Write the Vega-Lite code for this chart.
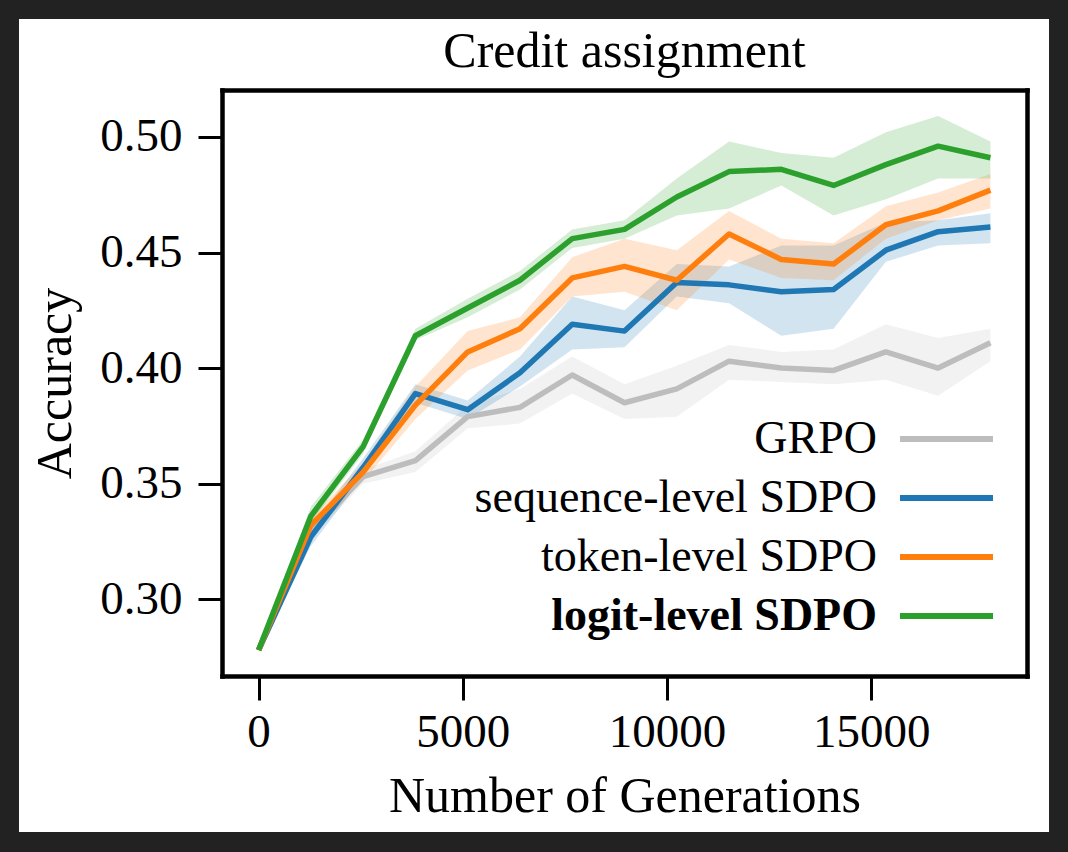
{
  "$schema": "https://vega.github.io/schema/vega-lite/v6.json",
  "width": 805,
  "height": 586,
  "autosize": {"type": "none"},
  "padding": {"left": 222, "top": 90, "right": 41, "bottom": 176},
  "background": "#222222",
  "title": {"text": "Credit assignment", "fontSize": 50, "font": "Liberation Serif", "fontWeight": "normal", "color": "#000000", "offset": -58, "anchor": "middle", "frame": "group", "zindex": 1},
  "config": {
    "font": "Liberation Serif",
    "view": {"stroke": null},
    "axis": {"grid": false, "labelFont": "Liberation Serif", "titleFont": "Liberation Serif", "labelColor": "#000000", "titleColor": "#000000", "tickColor": "#000000", "domainColor": "#000000", "labelFontSize": 47, "titleFontSize": 50, "titleFontWeight": "normal", "tickWidth": 3, "tickSize": 24, "domainWidth": 4.5, "domainCap": "square"}
  },
  "datasets": {
    "runs": [
      {"method": "GRPO", "generations": 0, "accuracy": 0.278, "lower": 0.278, "upper": 0.278},
      {"method": "GRPO", "generations": 1280, "accuracy": 0.329, "lower": 0.326, "upper": 0.332},
      {"method": "GRPO", "generations": 2560, "accuracy": 0.353, "lower": 0.350, "upper": 0.356},
      {"method": "GRPO", "generations": 3840, "accuracy": 0.360, "lower": 0.355, "upper": 0.364},
      {"method": "GRPO", "generations": 5120, "accuracy": 0.379, "lower": 0.374, "upper": 0.384},
      {"method": "GRPO", "generations": 6400, "accuracy": 0.383, "lower": 0.376, "upper": 0.391},
      {"method": "GRPO", "generations": 7680, "accuracy": 0.397, "lower": 0.389, "upper": 0.405},
      {"method": "GRPO", "generations": 8960, "accuracy": 0.385, "lower": 0.378, "upper": 0.393},
      {"method": "GRPO", "generations": 10240, "accuracy": 0.391, "lower": 0.379, "upper": 0.401},
      {"method": "GRPO", "generations": 11520, "accuracy": 0.403, "lower": 0.395, "upper": 0.410},
      {"method": "GRPO", "generations": 12800, "accuracy": 0.400, "lower": 0.394, "upper": 0.407},
      {"method": "GRPO", "generations": 14080, "accuracy": 0.399, "lower": 0.393, "upper": 0.408},
      {"method": "GRPO", "generations": 15360, "accuracy": 0.407, "lower": 0.395, "upper": 0.419},
      {"method": "GRPO", "generations": 16640, "accuracy": 0.400, "lower": 0.388, "upper": 0.413},
      {"method": "GRPO", "generations": 17920, "accuracy": 0.411, "lower": 0.403, "upper": 0.417},
      {"method": "sequence-level SDPO", "generations": 0, "accuracy": 0.278, "lower": 0.278, "upper": 0.278},
      {"method": "sequence-level SDPO", "generations": 1280, "accuracy": 0.327, "lower": 0.323, "upper": 0.331},
      {"method": "sequence-level SDPO", "generations": 2560, "accuracy": 0.357, "lower": 0.353, "upper": 0.361},
      {"method": "sequence-level SDPO", "generations": 3840, "accuracy": 0.389, "lower": 0.385, "upper": 0.393},
      {"method": "sequence-level SDPO", "generations": 5120, "accuracy": 0.382, "lower": 0.378, "upper": 0.386},
      {"method": "sequence-level SDPO", "generations": 6400, "accuracy": 0.398, "lower": 0.392, "upper": 0.405},
      {"method": "sequence-level SDPO", "generations": 7680, "accuracy": 0.419, "lower": 0.408, "upper": 0.431},
      {"method": "sequence-level SDPO", "generations": 8960, "accuracy": 0.416, "lower": 0.409, "upper": 0.425},
      {"method": "sequence-level SDPO", "generations": 10240, "accuracy": 0.437, "lower": 0.431, "upper": 0.445},
      {"method": "sequence-level SDPO", "generations": 11520, "accuracy": 0.436, "lower": 0.428, "upper": 0.444},
      {"method": "sequence-level SDPO", "generations": 12800, "accuracy": 0.433, "lower": 0.414, "upper": 0.453},
      {"method": "sequence-level SDPO", "generations": 14080, "accuracy": 0.434, "lower": 0.417, "upper": 0.453},
      {"method": "sequence-level SDPO", "generations": 15360, "accuracy": 0.451, "lower": 0.446, "upper": 0.463},
      {"method": "sequence-level SDPO", "generations": 16640, "accuracy": 0.459, "lower": 0.453, "upper": 0.464},
      {"method": "sequence-level SDPO", "generations": 17920, "accuracy": 0.461, "lower": 0.454, "upper": 0.467},
      {"method": "token-level SDPO", "generations": 0, "accuracy": 0.278, "lower": 0.278, "upper": 0.278},
      {"method": "token-level SDPO", "generations": 1280, "accuracy": 0.332, "lower": 0.329, "upper": 0.335},
      {"method": "token-level SDPO", "generations": 2560, "accuracy": 0.355, "lower": 0.351, "upper": 0.359},
      {"method": "token-level SDPO", "generations": 3840, "accuracy": 0.384, "lower": 0.378, "upper": 0.392},
      {"method": "token-level SDPO", "generations": 5120, "accuracy": 0.407, "lower": 0.399, "upper": 0.416},
      {"method": "token-level SDPO", "generations": 6400, "accuracy": 0.417, "lower": 0.408, "upper": 0.422},
      {"method": "token-level SDPO", "generations": 7680, "accuracy": 0.439, "lower": 0.431, "upper": 0.448},
      {"method": "token-level SDPO", "generations": 8960, "accuracy": 0.444, "lower": 0.433, "upper": 0.456},
      {"method": "token-level SDPO", "generations": 10240, "accuracy": 0.438, "lower": 0.425, "upper": 0.451},
      {"method": "token-level SDPO", "generations": 11520, "accuracy": 0.458, "lower": 0.447, "upper": 0.468},
      {"method": "token-level SDPO", "generations": 12800, "accuracy": 0.447, "lower": 0.439, "upper": 0.456},
      {"method": "token-level SDPO", "generations": 14080, "accuracy": 0.445, "lower": 0.438, "upper": 0.454},
      {"method": "token-level SDPO", "generations": 15360, "accuracy": 0.462, "lower": 0.456, "upper": 0.470},
      {"method": "token-level SDPO", "generations": 16640, "accuracy": 0.468, "lower": 0.464, "upper": 0.476},
      {"method": "token-level SDPO", "generations": 17920, "accuracy": 0.477, "lower": 0.469, "upper": 0.484},
      {"method": "logit-level SDPO", "generations": 0, "accuracy": 0.278, "lower": 0.278, "upper": 0.278},
      {"method": "logit-level SDPO", "generations": 1280, "accuracy": 0.336, "lower": 0.333, "upper": 0.340},
      {"method": "logit-level SDPO", "generations": 2560, "accuracy": 0.366, "lower": 0.363, "upper": 0.369},
      {"method": "logit-level SDPO", "generations": 3840, "accuracy": 0.414, "lower": 0.412, "upper": 0.417},
      {"method": "logit-level SDPO", "generations": 5120, "accuracy": 0.426, "lower": 0.422, "upper": 0.430},
      {"method": "logit-level SDPO", "generations": 6400, "accuracy": 0.438, "lower": 0.434, "upper": 0.442},
      {"method": "logit-level SDPO", "generations": 7680, "accuracy": 0.456, "lower": 0.452, "upper": 0.460},
      {"method": "logit-level SDPO", "generations": 8960, "accuracy": 0.460, "lower": 0.456, "upper": 0.464},
      {"method": "logit-level SDPO", "generations": 10240, "accuracy": 0.474, "lower": 0.466, "upper": 0.482},
      {"method": "logit-level SDPO", "generations": 11520, "accuracy": 0.485, "lower": 0.469, "upper": 0.498},
      {"method": "logit-level SDPO", "generations": 12800, "accuracy": 0.486, "lower": 0.479, "upper": 0.493},
      {"method": "logit-level SDPO", "generations": 14080, "accuracy": 0.479, "lower": 0.466, "upper": 0.491},
      {"method": "logit-level SDPO", "generations": 15360, "accuracy": 0.488, "lower": 0.473, "upper": 0.502},
      {"method": "logit-level SDPO", "generations": 16640, "accuracy": 0.496, "lower": 0.482, "upper": 0.509},
      {"method": "logit-level SDPO", "generations": 17920, "accuracy": 0.491, "lower": 0.482, "upper": 0.498}
    ]
  },
  "layer": [
    {
      "data": {"values": [{}]},
      "mark": {"type": "rect", "fill": "#ffffff"},
      "encoding": {
        "x": {"datum": -5867, "type": "quantitative", "scale": {"domain": [-896, 18816], "nice": false, "zero": false}, "axis": null},
        "x2": {"datum": 19355},
        "y": {"datum": 0.551, "type": "quantitative", "scale": {"domain": [0.2668, 0.5203], "nice": false, "zero": false}, "axis": null},
        "y2": {"datum": 0.1993}
      }
    },
    {
      "data": {"name": "runs"},
      "mark": {"type": "area", "fillOpacity": 0.2, "strokeWidth": 0},
      "encoding": {
        "x": {"field": "generations", "type": "quantitative", "scale": {"domain": [-896, 18816], "nice": false, "zero": false},
              "axis": {"orient": "bottom", "zindex": 1, "values": [0, 5000, 10000, 15000], "format": "d", "title": "Number of Generations", "labelPadding": 9, "titlePadding": 16, "domain": true}},
        "y": {"field": "lower", "type": "quantitative", "scale": {"domain": [0.2668, 0.5203], "nice": false, "zero": false},
              "axis": {"orient": "left", "zindex": 1, "values": [0.3, 0.35, 0.4, 0.45, 0.5], "format": ".2f", "title": "Accuracy", "labelPadding": 16, "titlePadding": 19, "domain": true}},
        "y2": {"field": "upper"},
        "fill": {"field": "method", "type": "nominal",
                 "scale": {"domain": ["GRPO", "sequence-level SDPO", "token-level SDPO", "logit-level SDPO"], "range": ["#bdbdbd", "#1f77b4", "#ff7f0e", "#2ca02c"]},
                 "legend": {"disable": true, "orient": "left"}}
      }
    },
    {
      "data": {"name": "runs"},
      "mark": {"type": "line", "strokeWidth": 5.5, "strokeJoin": "round", "strokeCap": "butt"},
      "encoding": {
        "x": {"field": "generations", "type": "quantitative", "scale": {"domain": [-896, 18816], "nice": false, "zero": false},
              "axis": {"orient": "top", "zindex": 1, "labels": false, "ticks": false, "title": null, "domain": true}},
        "y": {"field": "accuracy", "type": "quantitative", "scale": {"domain": [0.2668, 0.5203], "nice": false, "zero": false},
              "axis": {"orient": "right", "zindex": 1, "labels": false, "ticks": false, "title": null, "domain": true}},
        "stroke": {"field": "method", "type": "nominal",
                   "scale": {"domain": ["GRPO", "sequence-level SDPO", "token-level SDPO", "logit-level SDPO"], "range": ["#bdbdbd", "#1f77b4", "#ff7f0e", "#2ca02c"]},
                   "legend": {"orient": "none", "legendX": 701.5, "legendY": 326, "title": null, "padding": 0, "zindex": 1,
                              "symbolType": "M-4,0H4", "symbolSize": 540.6, "symbolStrokeWidth": 6, "symbolOffset": 0,
                              "labelOffset": -92.5, "labelAlign": "right", "labelFontSize": 46, "labelFont": "Liberation Serif",
                              "labelColor": "#000000", "labelLimit": 0, "rowPadding": 13,
                              "encode": {"labels": {"update": {"fontWeight": {"signal": "datum.label === 'logit-level SDPO' ? 'bold' : 'normal'"}}}}}}
      }
    }
  ],
  "resolve": {"axis": {"x": "independent", "y": "independent"}}
}
